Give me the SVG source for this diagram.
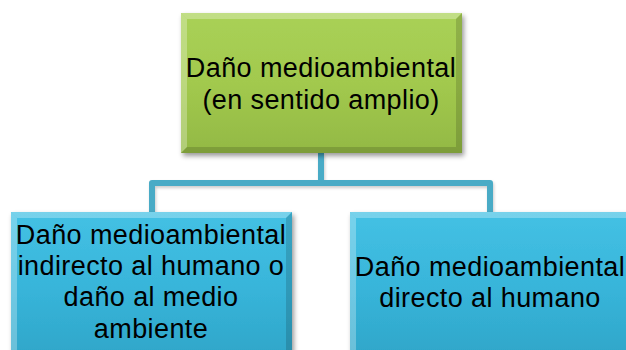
<svg xmlns="http://www.w3.org/2000/svg" width="626" height="350" viewBox="0 0 626 350">
  <defs>
    <linearGradient id="gGreen" x1="0" y1="0" x2="0" y2="1">
      <stop offset="0" stop-color="#a9d156"/>
      <stop offset="0.5" stop-color="#a2c94e"/>
      <stop offset="1" stop-color="#93b944"/>
    </linearGradient>
    <linearGradient id="gBlue" x1="0" y1="0" x2="0" y2="1">
      <stop offset="0" stop-color="#44c1e4"/>
      <stop offset="0.5" stop-color="#38b5da"/>
      <stop offset="1" stop-color="#2ea5c8"/>
    </linearGradient>
    <filter id="shadow" x="-10%" y="-10%" width="125%" height="130%">
      <feDropShadow dx="2" dy="3" stdDeviation="2.5" flood-color="#000" flood-opacity="0.4"/>
    </filter>
    <filter id="lineShadow" x="-10%" y="-10%" width="125%" height="130%">
      <feDropShadow dx="1" dy="2" stdDeviation="1.5" flood-color="#000" flood-opacity="0.2"/>
    </filter>
  </defs>
  <style>
    .lbl { font-family: "Liberation Sans", Arial, sans-serif; font-size: 27px; letter-spacing: 0.4px; fill: #000; text-anchor: middle; }
    .conn { fill: none; stroke: #4aabc6; stroke-width: 6; stroke-linejoin: round; }
    .hl { fill: #ffffff; opacity: 0.28; }
    .sh { fill: #000000; opacity: 0.15; }
  </style>
  <rect width="626" height="350" fill="#ffffff"/>

  <g id="connectors" filter="url(#lineShadow)">
    <path class="conn" d="M321,153 V183"/>
    <path class="conn" d="M152,212 V183 H490 V212"/>
  </g>

  <g id="node-root">
    <rect x="181" y="13" width="281" height="140" fill="url(#gGreen)" filter="url(#shadow)"/>
    <polygon class="hl" points="181,13 462,13 456,19 187,19"/>
    <polygon class="hl" points="181,13 187,19 187,147 181,153" opacity="0.18"/>
    <polygon class="sh" points="462,13 462,153 456,147 456,19"/>
    <polygon class="sh" points="181,153 462,153 456,147 187,147" opacity="0.22"/>
    <text class="lbl" x="321" y="77">Daño medioambiental</text>
    <text class="lbl" x="321" y="109">(en sentido amplio)</text>
  </g>

  <g id="node-left">
    <rect x="11" y="212" width="281" height="150" fill="url(#gBlue)" filter="url(#shadow)"/>
    <polygon class="hl" points="11,212 292,212 286,218 17,218"/>
    <polygon class="hl" points="11,212 17,218 17,356 11,362" opacity="0.18"/>
    <polygon class="sh" points="292,212 292,362 286,356 286,218"/>
    <text class="lbl" x="151" y="244">Daño medioambiental</text>
    <text class="lbl" x="151" y="275">indirecto al humano o</text>
    <text class="lbl" x="151" y="306">daño al medio</text>
    <text class="lbl" x="151" y="338">ambiente</text>
  </g>

  <g id="node-right">
    <rect x="350" y="212" width="285" height="150" fill="url(#gBlue)" filter="url(#shadow)"/>
    <polygon class="hl" points="350,212 635,212 629,218 356,218"/>
    <polygon class="hl" points="350,212 356,218 356,356 350,362" opacity="0.18"/>
    <text class="lbl" x="490" y="276">Daño medioambiental</text>
    <text class="lbl" x="490" y="307">directo al humano</text>
  </g>
</svg>
